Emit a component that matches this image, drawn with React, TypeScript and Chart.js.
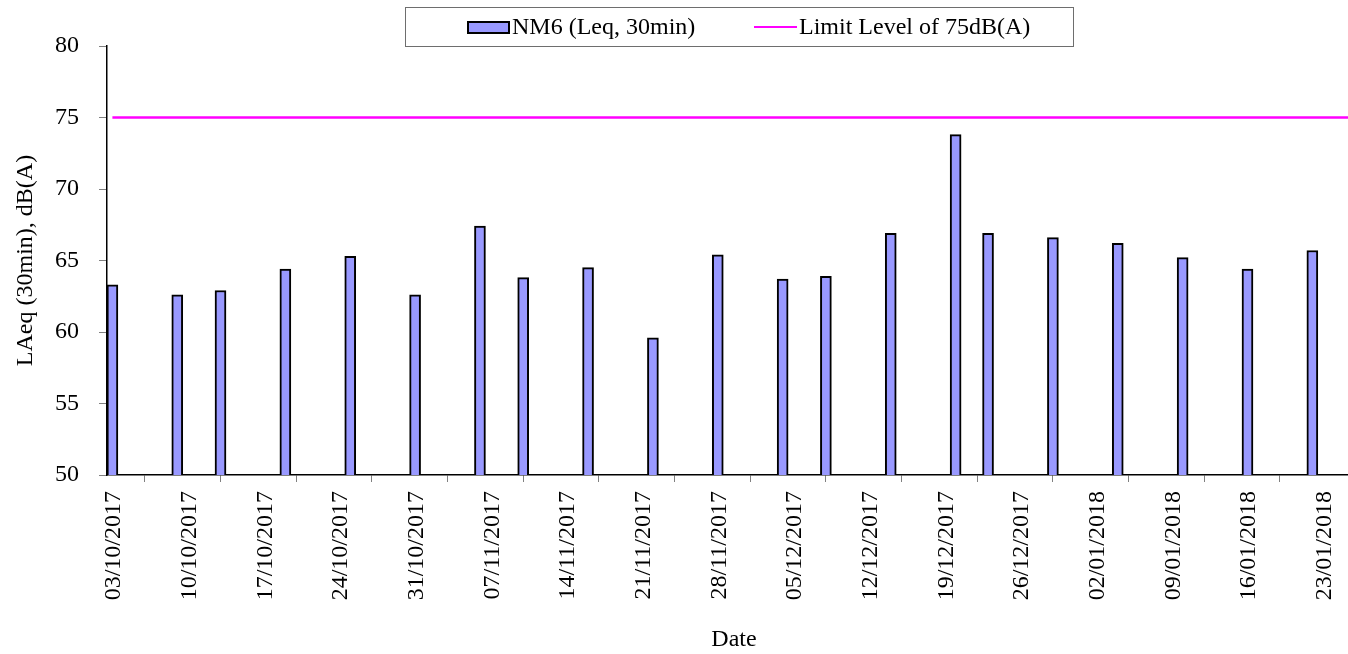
import React, { useEffect, useRef } from "react";
import { Chart, registerables } from "chart.js";

Chart.register(...registerables);

// ---- data ----
const measurementDates: string[] = [
  "03/10/2017", "09/10/2017", "13/10/2017", "19/10/2017", "25/10/2017", "31/10/2017",
  "06/11/2017", "10/11/2017", "16/11/2017", "22/11/2017", "28/11/2017",
  "04/12/2017", "08/12/2017", "14/12/2017", "20/12/2017", "23/12/2017", "29/12/2017",
  "04/01/2018", "10/01/2018", "16/01/2018", "22/01/2018",
];
const nm6Values: number[] = [
  63.3, 62.6, 62.9, 64.4, 65.3, 62.6,
  67.4, 63.8, 64.5, 59.6, 65.4,
  63.7, 63.9, 66.9, 73.8, 66.9, 66.6,
  66.2, 65.2, 64.4, 65.7,
];
const tickDates: string[] = [
  "03/10/2017", "10/10/2017", "17/10/2017", "24/10/2017", "31/10/2017",
  "07/11/2017", "14/11/2017", "21/11/2017", "28/11/2017",
  "05/12/2017", "12/12/2017", "19/12/2017", "26/12/2017",
  "02/01/2018", "09/01/2018", "16/01/2018", "23/01/2018",
];
const axisEndDate = "27/01/2018";
const limitLevel = 75;
const seriesLabels = ["NM6 (Leq, 30min)", "Limit Level of 75dB(A)"];
const yTitle = "LAeq (30min), dB(A)";
const xTitle = "Date";

const FONT = "'Liberation Serif', 'Times New Roman', serif";

function toUTC(s: string): number {
  const [d, m, y] = s.split("/").map(Number);
  return Date.UTC(y, m - 1, d);
}
const origin = toUTC(measurementDates[0]);
function dayIndex(s: string): number {
  return Math.round((toUTC(s) - origin) / 86400000);
}
const tickLabelByDay = new Map<number, string>(tickDates.map((t) => [dayIndex(t), t]));
const axisMax = dayIndex(axisEndDate);

const legendPlugin = {
  id: "boxedLegend",
  afterDraw(chart: any) {
    const ctx = chart.ctx as CanvasRenderingContext2D;
    const ds = chart.data.datasets;
    ctx.save();
    ctx.strokeStyle = "#6e6e6e";
    ctx.lineWidth = 1;
    ctx.strokeRect(405.5, 7.5, 668, 39);
    ctx.font = `24px ${FONT}`;
    ctx.textBaseline = "alphabetic";
    // bar swatch
    ctx.fillStyle = ds[0].backgroundColor;
    ctx.fillRect(468, 22, 41, 11);
    ctx.strokeStyle = "#000";
    ctx.lineWidth = 2;
    ctx.strokeRect(468, 22, 41, 11);
    ctx.fillStyle = "#000";
    ctx.fillText(ds[0].label, 512, 34);
    // line swatch
    ctx.strokeStyle = ds[1].borderColor;
    ctx.lineWidth = 2;
    ctx.beginPath();
    ctx.moveTo(754, 27);
    ctx.lineTo(797, 27);
    ctx.stroke();
    ctx.fillStyle = "#000";
    ctx.fillText(ds[1].label, 799, 34);
    ctx.restore();
  },
};

export default function App() {
  const canvasRef = useRef<HTMLCanvasElement | null>(null);

  useEffect(() => {
    if (!canvasRef.current) return;
    const barPoints = measurementDates.map((d, i) => ({ x: dayIndex(d) + 0.5, y: nm6Values[i] }));
    const linePoints = [
      { x: dayIndex(measurementDates[0]) + 0.5, y: limitLevel },
      { x: axisMax, y: limitLevel },
    ];
    const chart = new Chart(canvasRef.current, {
      type: "bar",
      data: {
        datasets: [
          {
            type: "bar",
            label: seriesLabels[0],
            data: barPoints as any,
            backgroundColor: "#9999FF",
            borderColor: "#000000",
            borderWidth: 2,
            borderSkipped: "start",
            barThickness: 11,
            order: 2,
          } as any,
          {
            type: "line",
            label: seriesLabels[1],
            data: linePoints as any,
            borderColor: "#FF00FF",
            borderWidth: 2.5,
            pointRadius: 0,
            fill: false,
            order: 1,
          } as any,
        ],
      },
      options: {
        animation: false,
        responsive: false,
        devicePixelRatio: 1,
        layout: { padding: { top: 46, left: 0, right: 0, bottom: 0 } },
        plugins: {
          legend: { display: false },
          tooltip: { enabled: false },
        },
        scales: {
          x: {
            type: "linear",
            min: 0,
            max: axisMax,
            offset: false,
            afterBuildTicks(scale: any) {
              scale.ticks = tickDates.map((t) => ({ value: dayIndex(t) }));
            },
            afterFit(scale: any) {
              scale.height = 179;
            },
            grid: {
              drawOnChartArea: false,
              drawTicks: true,
              tickLength: 7,
              color: "#808080",
            },
            border: { display: true, color: "#000000", width: 1.5 },
            ticks: {
              autoSkip: false,
              maxRotation: 90,
              minRotation: 90,
              padding: 9,
              labelOffset: 7,
              color: "#000",
              font: { family: FONT, size: 24 },
              callback: (v: any) => tickLabelByDay.get(Number(v)) ?? "",
            },
            title: {
              display: true,
              text: xTitle,
              color: "#000",
              font: { family: FONT, size: 24 },
              padding: { top: 0, bottom: 0 },
            },
          },
          y: {
            min: 50,
            max: 80,
            afterFit(scale: any) {
              scale.width = 107;
            },
            grid: {
              drawOnChartArea: false,
              drawTicks: true,
              tickLength: 8,
              color: "#808080",
            },
            border: { display: true, color: "#000000", width: 1.5 },
            ticks: {
              stepSize: 5,
              padding: 20,
              color: "#000",
              font: { family: FONT, size: 24 },
            },
            title: {
              display: true,
              text: yTitle,
              color: "#000",
              font: { family: FONT, size: 24 },
              padding: { top: 11, bottom: 0 },
            },
          },
        },
      } as any,
      plugins: [legendPlugin],
    });
    return () => chart.destroy();
  }, []);

  return (
    <div style={{ position: "fixed", left: 0, top: 0, width: 1348, height: 654, overflow: "hidden", background: "#fff" }}>
      <canvas ref={canvasRef} width={1361} height={654} style={{ width: 1361, height: 654, display: "block" }} />
    </div>
  );
}
